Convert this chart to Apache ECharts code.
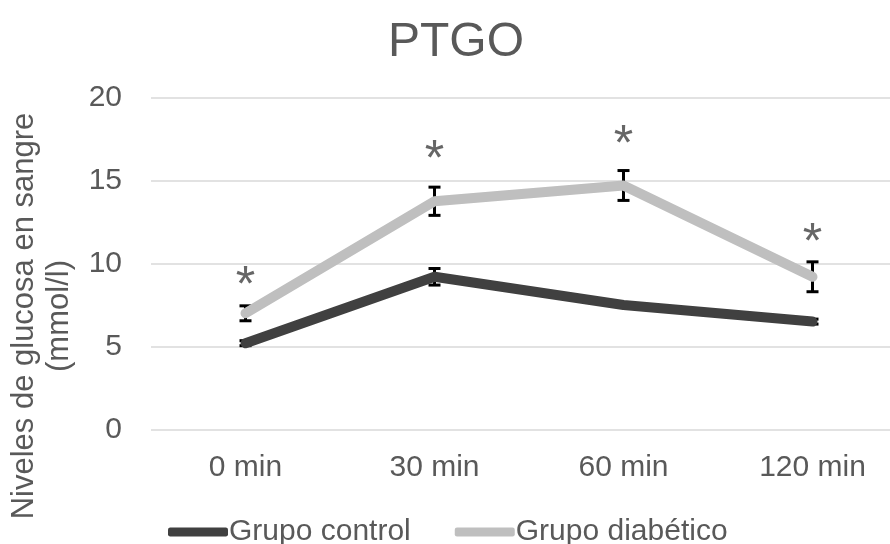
<!DOCTYPE html>
<html><head><meta charset="utf-8">
<script src="https://cdn.jsdelivr.net/npm/echarts@6/dist/echarts.min.js"></script>
<style>html,body{margin:0;padding:0;background:#fff;overflow:hidden;width:890px;height:544px}#c{width:910px;height:544px}</style>
</head><body><div id="c"></div>
<script>
const categories = ['0 min', '30 min', '60 min', '120 min'];
const controlValues = [5.2, 9.2, 7.5, 6.5];
const controlErrors = [0.15, 0.5, 0.1, 0.15];
const diabeticValues = [7.0, 13.75, 14.7, 9.2];
const diabeticErrors = [0.45, 0.85, 0.9, 0.9];
const asteriskValues = [8.6, 16.15, 17.05, 11.15];
const yTicks = [0, 5, 10, 15, 20];

const font = 'Liberation Sans, Arial, sans-serif';
const textColor = '#595959';

function errorSeries(values, errors) {
  return {
    type: 'custom',
    z: 2,
    silent: true,
    data: values.map((v, i) => [i, v - errors[i], v + errors[i]]),
    renderItem: function (params, api) {
      const lo = api.coord([api.value(0), api.value(1)]);
      const hi = api.coord([api.value(0), api.value(2)]);
      const hw = 6;
      const style = { stroke: '#000', lineWidth: 3, fill: null };
      return {
        type: 'group',
        children: [
          { type: 'line', shape: { x1: lo[0], y1: lo[1], x2: hi[0], y2: hi[1] }, style },
          { type: 'line', shape: { x1: lo[0] - hw, y1: lo[1], x2: lo[0] + hw, y2: lo[1] }, style },
          { type: 'line', shape: { x1: hi[0] - hw, y1: hi[1], x2: hi[0] + hw, y2: hi[1] }, style }
        ]
      };
    }
  };
}

const chart = echarts.init(document.getElementById('c'), null, { renderer: 'canvas' });
chart.setOption({
  animation: false,
  backgroundColor: '#fff',
  title: {
    text: 'PTGO', left: 451, top: 14, textAlign: 'center',
    textStyle: { fontFamily: font, fontSize: 48, fontWeight: 'normal', color: textColor }
  },
  grid: { left: 151, top: 97.5, width: 756, height: 332 },
  legend: {
    left: 163, top: 512,
    itemWidth: 60, itemHeight: 9, itemGap: 44,
    icon: 'roundRect',
    textStyle: { fontFamily: font, fontSize: 30, color: textColor, padding: [0, 0, 0, -4] },
    data: ['Grupo control', 'Grupo diabético']
  },
  xAxis: {
    type: 'category', data: categories,
    axisLine: { show: false }, axisTick: { show: false },
    axisLabel: { fontFamily: font, fontSize: 30, color: textColor, margin: 23 }
  },
  yAxis: {
    type: 'value', min: yTicks[0], max: yTicks[yTicks.length - 1], interval: 5,
    axisLine: { show: false }, axisTick: { show: false },
    axisLabel: { fontFamily: font, fontSize: 30, color: textColor, margin: 29 },
    splitLine: { lineStyle: { color: '#d9d9d9', width: 1.5 } }
  },
  graphic: [{
    type: 'text', x: 42, y: 316, rotation: Math.PI / 2,
    style: {
      text: 'Niveles de glucosa en sangre\n(mmol/l)',
      fontFamily: font, fontSize: 31, fill: textColor,
      align: 'center', verticalAlign: 'middle', lineHeight: 35
    },
    originX: 0, originY: 0
  }],
  series: [
    {
      name: 'Grupo control', type: 'line', data: controlValues, z: 3,
      showSymbol: false, symbol: 'none', color: '#404040',
      lineStyle: { width: 10, color: '#404040', cap: 'round', join: 'round' }
    },
    {
      name: 'Grupo diabético', type: 'line', data: diabeticValues, z: 4,
      showSymbol: false, symbol: 'none', color: '#bfbfbf',
      lineStyle: { width: 10, color: '#bfbfbf', cap: 'round', join: 'round' }
    },
    errorSeries(controlValues, controlErrors),
    errorSeries(diabeticValues, diabeticErrors),
    {
      type: 'scatter', data: asteriskValues, symbolSize: 0, silent: true, z: 6,
      label: {
        show: true, position: 'inside', formatter: '*',
        fontFamily: font, fontSize: 50, color: '#404040'
      }
    }
  ]
});
</script></body></html>
